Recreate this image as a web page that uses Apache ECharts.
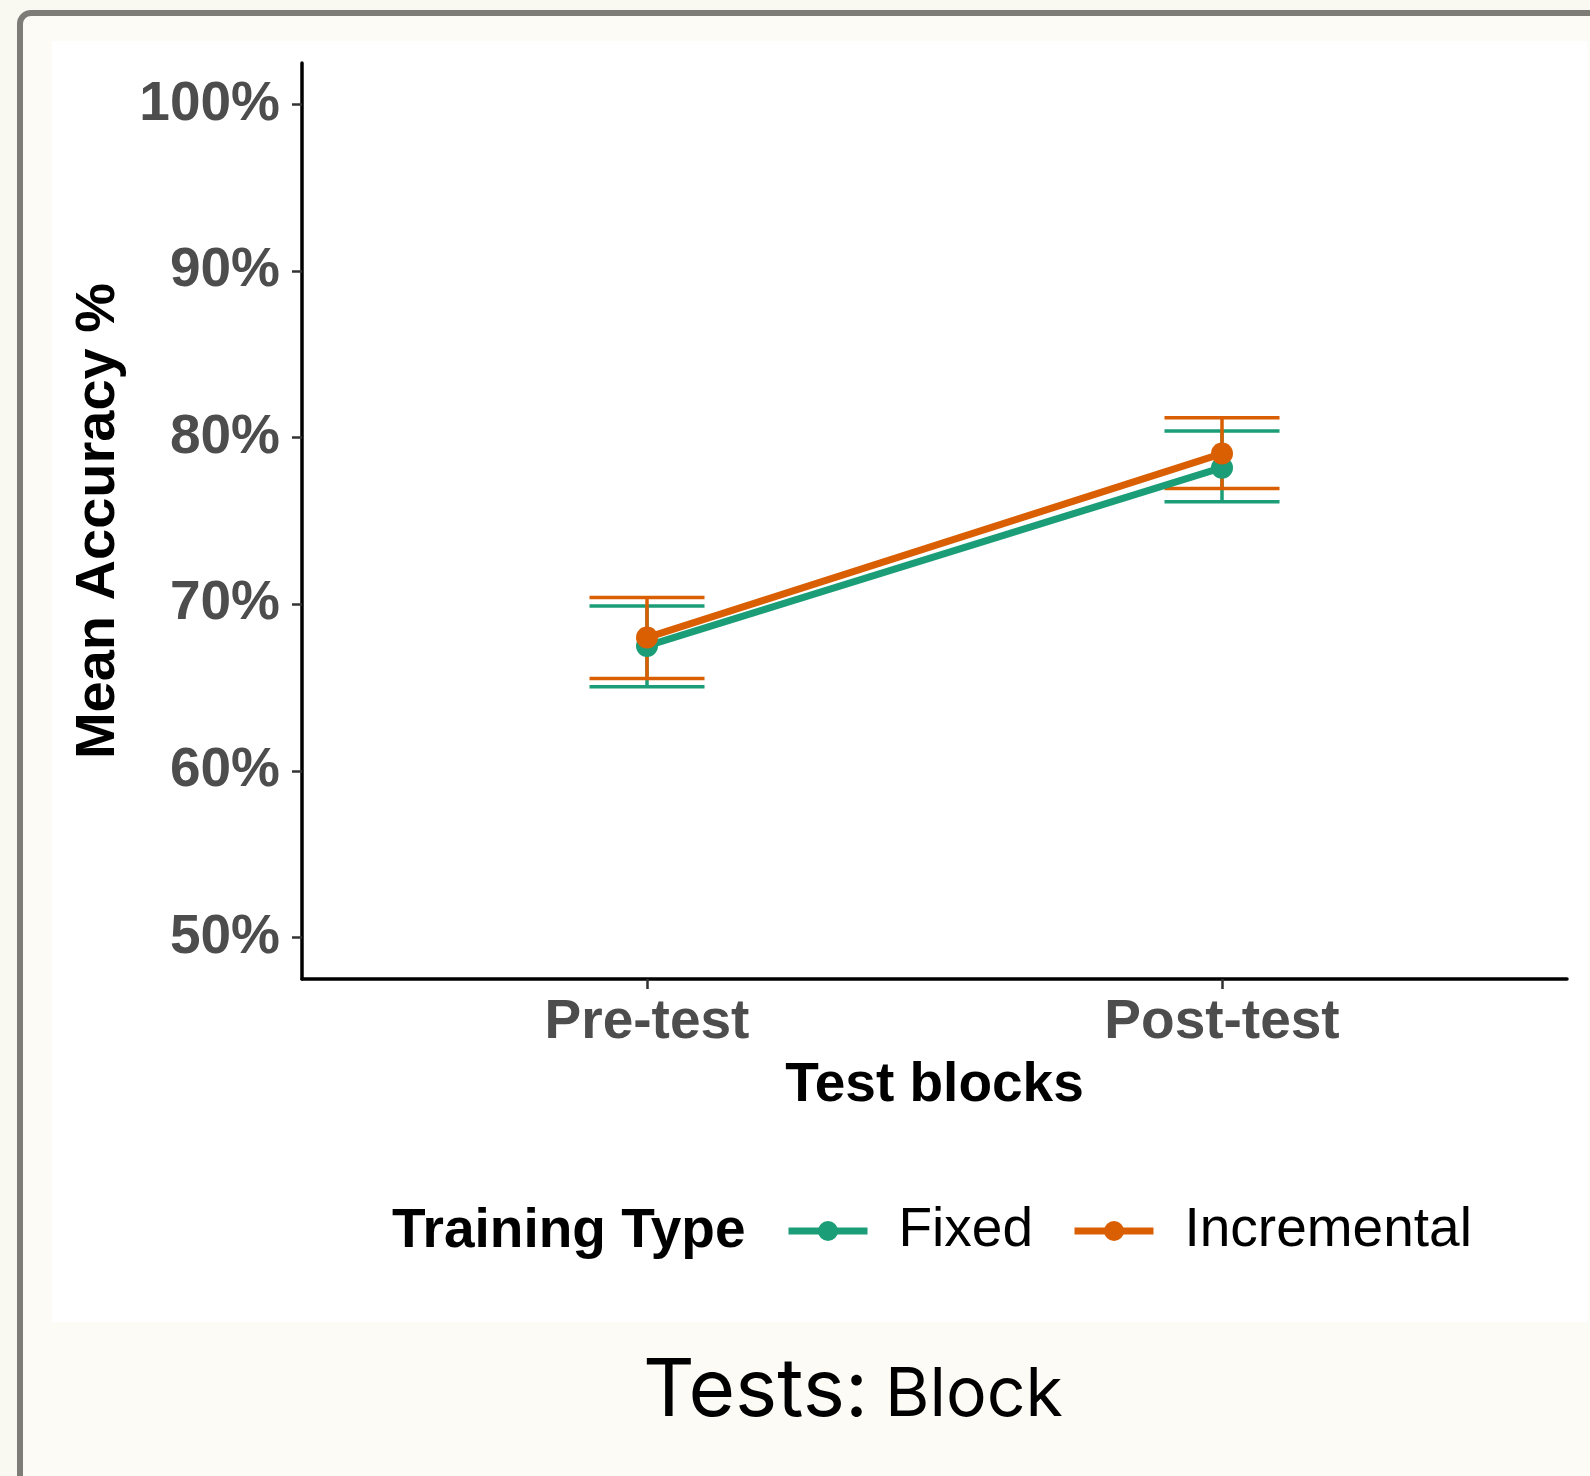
<!DOCTYPE html>
<html>
<head>
<meta charset="utf-8">
<script src="https://cdn.jsdelivr.net/npm/echarts@6/dist/echarts.min.js"></script>
<style>
  html, body { margin:0; padding:0; width:1590px; height:1476px; overflow:hidden; background:#f9f8f1; }
  #frame { position:absolute; left:17px; top:10px; width:1600px; height:1520px; border:6px solid #7d7c77; border-radius:14px; background:#fcfbf6; box-sizing:border-box; }
  #panel { position:absolute; left:52px; top:41px; width:1536px; height:1281px; background:#ffffff; }
  #chart { position:absolute; left:0; top:0; width:1590px; height:1476px; }
</style>
</head>
<body>
<div id="frame"></div>
<div id="panel"></div>
<div id="chart"></div>
<script>
// ---- data ----
const categories = ['Pre-test', 'Post-test'];
const fixedMean = [67.5, 78.2];
const fixedLow  = [65.05, 76.15];
const fixedHigh = [69.9, 80.4];
const incMean   = [68.0, 79.05];
const incLow    = [65.55, 76.95];
const incHigh   = [70.4, 81.2];
const yTicks = [50, 60, 70, 80, 90, 100];

const TEAL = '#1b9e77', ORANGE = '#d95f02';
const capHalf = 0.1;
const FONT = '"Liberation Sans", Arial, sans-serif';

function errSeries(name, color, lo, hi) {
  return {
    type: 'custom', name: name, z: 2,
    data: categories.map((c, i) => [i + 1, lo[i], hi[i]]),
    encode: { x: 0, y: [1, 2] },
    renderItem: function (params, api) {
      const x = api.value(0), l = api.value(1), h = api.value(2);
      const t = api.coord([x, h]), b = api.coord([x, l]);
      const xl = api.coord([x - capHalf, h])[0], xr = api.coord([x + capHalf, h])[0];
      const style = { stroke: color, lineWidth: 3.5, fill: null };
      return { type: 'group', children: [
        { type: 'line', shape: { x1: t[0], y1: t[1], x2: b[0], y2: b[1] }, style: style },
        { type: 'line', shape: { x1: xl, y1: t[1], x2: xr, y2: t[1] }, style: style },
        { type: 'line', shape: { x1: xl, y1: b[1], x2: xr, y2: b[1] }, style: style }
      ]};
    }
  };
}
function lineSeries(name, color, mean) {
  return {
    type: 'line', name: name, z: 3,
    data: categories.map((c, i) => [i + 1, mean[i]]),
    symbol: 'circle', symbolSize: 22, showSymbol: true,
    lineStyle: { color: color, width: 7 },
    itemStyle: { color: color },
    emphasis: { disabled: true }
  };
}

const chart = echarts.init(document.getElementById('chart'), null, { renderer: 'canvas' });
chart.setOption({
  animation: false,
  backgroundColor: 'transparent',
  grid: { left: 302, right: 23, top: 63, bottom: 497 },
  xAxis: {
    type: 'value', min: 0.4, max: 2.6,
    axisLine: { show: true, lineStyle: { color: '#000', width: 3.5 } },
    axisTick: { show: true, customValues: [1, 2], length: 10, lineStyle: { color: '#333', width: 2.5 } },
    axisLabel: { customValues: [1, 2], formatter: v => categories[Math.round(v) - 1], margin: 16,
                 fontSize: 55, fontWeight: 'bold', color: '#4d4d4d', fontFamily: FONT },
    splitLine: { show: false },
    name: 'Test blocks', nameLocation: 'middle', nameGap: 79,
    nameTextStyle: { fontSize: 55, fontWeight: 'bold', color: '#000', fontFamily: FONT }
  },
  yAxis: {
    type: 'value', min: 47.5, max: 102.5,
    axisLine: { show: true, lineStyle: { color: '#000', width: 3.5 } },
    axisTick: { show: true, customValues: yTicks, length: 10, lineStyle: { color: '#333', width: 2.5 } },
    axisLabel: { customValues: yTicks, formatter: v => v + '%', margin: 22,
                 fontSize: 55, fontWeight: 'bold', color: '#4d4d4d', fontFamily: FONT },
    splitLine: { show: false },
    name: 'Mean Accuracy %', nameLocation: 'middle', nameGap: 175, nameRotate: 90,
    nameTextStyle: { fontSize: 56, fontWeight: 'bold', color: '#000', fontFamily: FONT }
  },
  legend: {
    data: ['Fixed', 'Incremental'],
    left: 780, top: 1198.5,
    orient: 'horizontal',
    itemWidth: 79, itemHeight: 25, itemGap: 38,
    selectedMode: false,
    lineStyle: { width: 7 },
    textStyle: { fontSize: 55, color: '#000', fontFamily: FONT, padding: [0, 0, 0, 26] }
  },
  graphic: [
    { type: 'text', left: 392, top: 1204, style: { text: 'Training Type', font: 'bold 55px "Liberation Sans", Arial, sans-serif', fill: '#000' } },
    { type: 'text', x: 643, y: 1432, style: { text: 'Tests:', font: '80px Inter, sans-serif', fill: '#000', textAlign: 'left', textVerticalAlign: 'bottom' } },
    { type: 'text', x: 885, y: 1430, style: { text: 'Block', font: '68px Inter, sans-serif', fill: '#000', textAlign: 'left', textVerticalAlign: 'bottom' } }
  ],
  series: [
    errSeries('Fixed SE', TEAL, fixedLow, fixedHigh),
    errSeries('Incremental SE', ORANGE, incLow, incHigh),
    lineSeries('Fixed', TEAL, fixedMean),
    lineSeries('Incremental', ORANGE, incMean)
  ]
});
</script>
</body>
</html>
